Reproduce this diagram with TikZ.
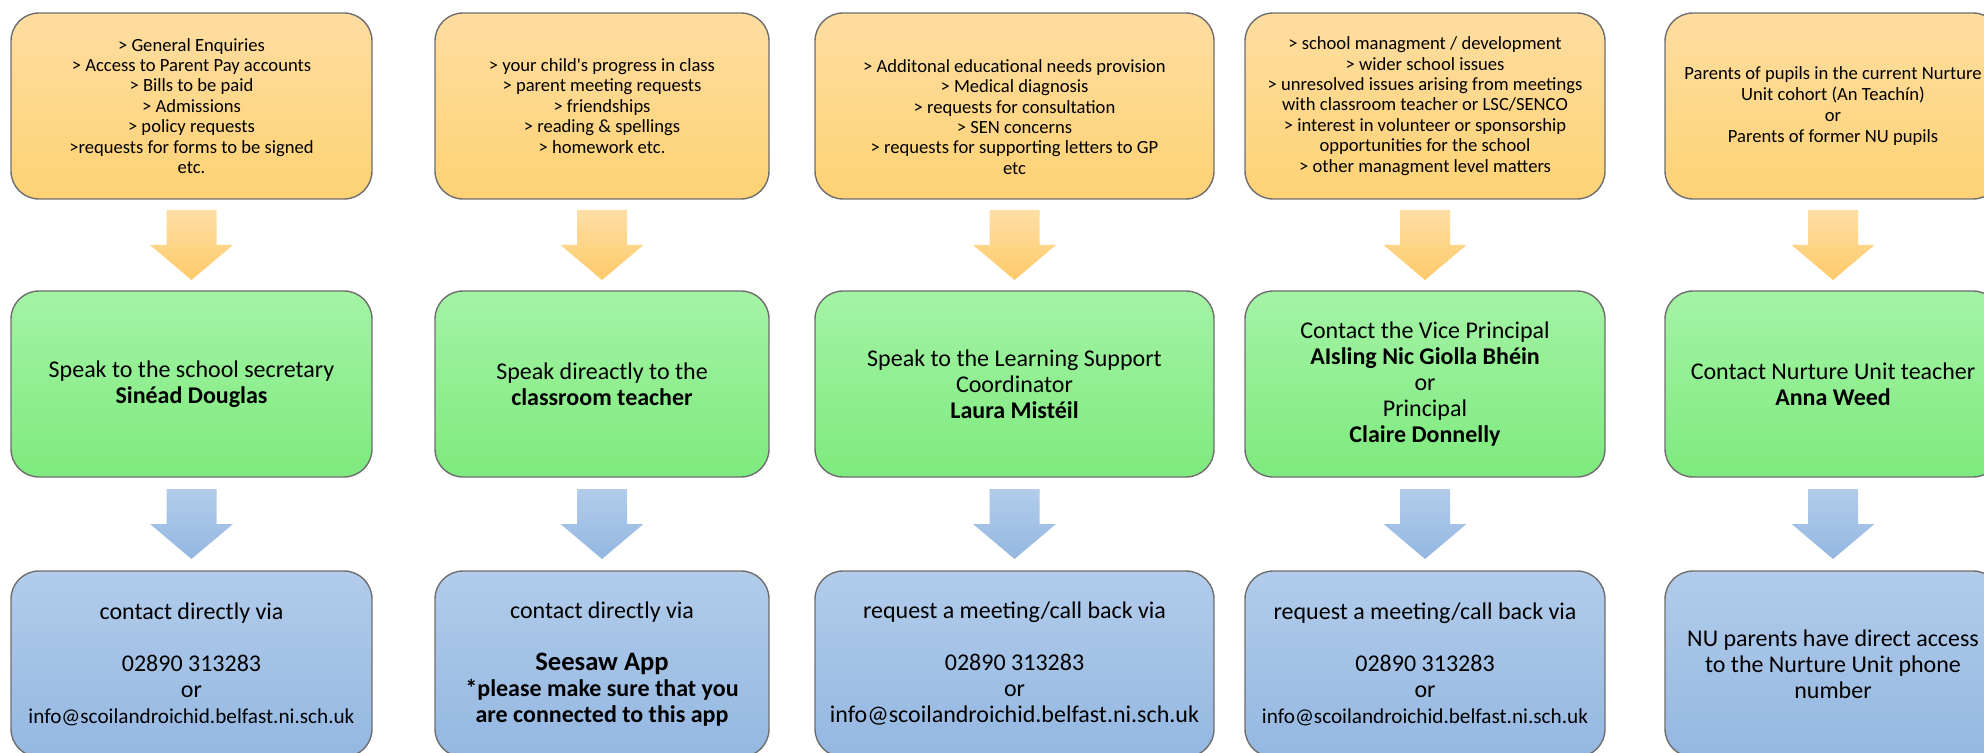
\documentclass[tikz,border=0pt]{standalone}
\usepackage{fontspec}
\setmainfont{Carlito}
\usepackage{tikz}
\usetikzlibrary{calc}

\definecolor{boxline}{HTML}{6E6E6E}
\definecolor{queryTop}{HTML}{FEDDA0}
\definecolor{queryBot}{HTML}{FED274}
\definecolor{staffTop}{HTML}{A4F3A5}
\definecolor{staffBot}{HTML}{7EEA7E}
\definecolor{contactTop}{HTML}{B2CCEA}
\definecolor{contactBot}{HTML}{94B7E1}

\begin{document}
\begin{tikzpicture}[x=0.5pt,y=-0.5pt]

	\tikzstyle boxes=[rectangle, rounded corners=14pt, draw=boxline, line width=0.7pt, minimum height=93pt, inner sep=2pt, align=center, text=black];
	\tikzstyle query boxes=[boxes, top color=queryTop, bottom color=queryBot, font=\fontsize{9.3pt}{10.2pt}\selectfont];
	\tikzstyle staff boxes=[boxes, top color=staffTop, bottom color=staffBot, font=\fontsize{12pt}{13pt}\selectfont];
	\tikzstyle contact boxes=[boxes, top color=contactTop, bottom color=contactBot, font=\fontsize{12pt}{13pt}\selectfont];
	\tikzstyle query arrows=[top color=queryTop!95!white, bottom color=queryBot!90!orange];
	\tikzstyle contact arrows=[top color=contactTop, bottom color=contactBot];

	\useasboundingbox (0,0) rectangle (1984,753);
	\clip (0,0) rectangle (1984,753);

	% what the question is about
	\node[query boxes, minimum width=180.5pt] (t1) at (191.5,106) {> General Enquiries\\> Access to Parent Pay accounts\\> Bills to be paid\\> Admissions\\> policy requests\\>requests for forms to be signed\\etc.};
	\node[query boxes, minimum width=167pt] (t2) at (602,106) {> your child\textquotesingle s progress in class\\> parent meeting requests\\> friendships\\> reading \& spellings\\> homework etc.};
	\node[query boxes, minimum width=199.5pt] (t3) at (1014.5,106) {\strut\\> Additonal educational needs provision\\> Medical diagnosis\\> requests for consultation\\> SEN concerns\\> requests for supporting letters to GP\\etc};
	\node[query boxes, minimum width=180pt] (t4) at (1425,106) {> school managment / development\\> wider school issues\\> unresolved issues arising from meetings\\with classroom teacher or LSC/SENCO\\> interest in volunteer or sponsorship\\opportunities for the school\\> other managment level matters};
	\node[query boxes, minimum width=168pt, font=\fontsize{9.3pt}{10.6pt}\selectfont] (t5) at (1833,106) {Parents of pupils in the current Nurture\\Unit cohort (An Teachín)\\or\\Parents of former NU pupils};

	% who to speak to
	\node[staff boxes, minimum width=180.5pt] (g1) at (191.5,384) {Speak to the school secretary\\\textbf{Sinéad Douglas}};
	\node[staff boxes, minimum width=167pt] (g2) at (602,384) {Speak direactly to the\\\textbf{classroom teacher}};
	\node[staff boxes, minimum width=199.5pt] (g3) at (1014.5,384) {Speak to the Learning Support\\Coordinator\\\textbf{Laura Mistéil}};
	\node[staff boxes, minimum width=180pt] (g4) at (1425,384) {Contact the Vice Principal\\\textbf{AIsling Nic Giolla Bhéin}\\or\\Principal\\\textbf{Claire Donnelly}};
	\node[staff boxes, minimum width=168pt] (g5) at (1833,384) {Contact Nurture Unit teacher\\\textbf{Anna Weed}};

	% how to get in touch
	\node[contact boxes, minimum width=180.5pt] (b1) at (191.5,664) {contact directly via\\[13pt]02890 313283\\or\\{\fontsize{10.6pt}{13pt}\selectfont info@scoilandroichid.belfast.ni.sch.uk}};
	\node[contact boxes, minimum width=167pt] (b2) at (602,664) {contact directly via\\[13pt]{\fontsize{13.3pt}{15pt}\selectfont\bfseries Seesaw App}\\\textbf{*please make sure that you}\\\textbf{are connected to this app}};
	\node[contact boxes, minimum width=199.5pt] (b3) at (1014.5,664) {request a meeting/call back via\\[13pt]02890 313283\\or\\info@scoilandroichid.belfast.ni.sch.uk};
	\node[contact boxes, minimum width=180pt] (b4) at (1425,664) {request a meeting/call back via\\[13pt]02890 313283\\or\\{\fontsize{10.6pt}{13pt}\selectfont info@scoilandroichid.belfast.ni.sch.uk}};
	\node[contact boxes, minimum width=168pt] (b5) at (1833,664) {NU parents have direct access\\to the Nurture Unit phone\\number};

	\foreach \i in {1,...,5}{
		\shade[query arrows] ($(t\i.south)!0.5!(g\i.north)+(-25,-35)$) -- ++(50,0) -- ++(0,35) -- ++(16.5,0) -- ++(-41.5,35) -- ++(-41.5,-35) -- ++(16.5,0) -- cycle;
		\shade[contact arrows] ($(g\i.south)!0.5!(b\i.north)+(-25,-35)$) -- ++(50,0) -- ++(0,35) -- ++(16.5,0) -- ++(-41.5,35) -- ++(-41.5,-35) -- ++(16.5,0) -- cycle;
	}

\end{tikzpicture}
\end{document}
